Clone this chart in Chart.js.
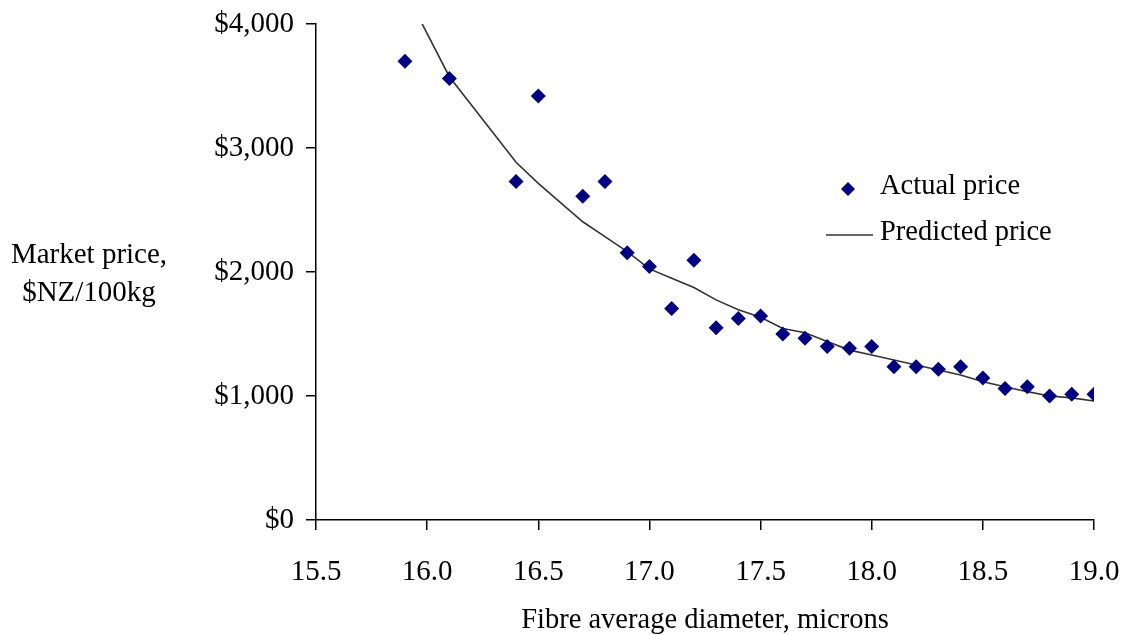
<!DOCTYPE html>
<html>
<head>
<meta charset="utf-8">
<title>Market price vs fibre diameter</title>
<script src="https://cdn.jsdelivr.net/npm/chart.js@4.4.1/dist/chart.umd.min.js"></script>
<style>
  body { margin: 0; background: #fff; }
  #wrap { width: 1128px; height: 635px; position: relative; }
</style>
</head>
<body>
<div id="wrap"><canvas id="mycanvas"></canvas></div>
<script>
// fibre diameter (microns)
var diameter = [15.9, 16.1, 16.4, 16.5, 16.7, 16.8, 16.9, 17.0, 17.1, 17.2, 17.3, 17.4, 17.5, 17.6,
                17.7, 17.8, 17.9, 18.0, 18.1, 18.2, 18.3, 18.4, 18.5, 18.6, 18.7, 18.8, 18.9, 19.0];
// $NZ/100kg
var actualPrice = [3700, 3560, 2730, 3420, 2610, 2730, 2155, 2045, 1705, 2095, 1550, 1625, 1645, 1500,
                   1465, 1400, 1385, 1400, 1235, 1235, 1215, 1235, 1145, 1060, 1075, 1000, 1015, 1015];
var predictedPrice = [4270, 3575, 2885, 2715, 2405, 2285, 2165, 2025, 1950, 1875, 1775, 1695, 1635, 1545,
                      1510, 1440, 1370, 1330, 1290, 1250, 1210, 1170, 1115, 1075, 1035, 1000, 985, 960];
var seriesNames = ["Actual price", "Predicted price"];
var yTitle = ["Market price,", "$NZ/100kg"];
var xTitle = "Fibre average diameter, microns";

var FONT = "'Liberation Serif', 'Times New Roman', serif";
var NAVY = "#000080";
var LINE = "#333333";

var actualPts = [];
var predictedPts = [];
for (var i in diameter) {
  actualPts.push({x: diameter[i], y: actualPrice[i]});
  predictedPts.push({x: diameter[i], y: predictedPrice[i]});
}

// y title (horizontal, two lines) and the legend inside the plot
var extras = {
  id: "extras",
  afterDraw: function(chart) {
    var ctx = chart.ctx;
    ctx.save();
    ctx.font = "29px " + FONT;
    ctx.fillStyle = "#000";
    ctx.textBaseline = "middle";
    ctx.textAlign = "center";
    ctx.fillText(yTitle[0], 89, 255);
    ctx.fillText(yTitle[1], 89, 293);

    // legend
    ctx.font = "28.5px " + FONT;
    ctx.textAlign = "left";
    ctx.fillText(seriesNames[0], 880, 187);
    ctx.fillText(seriesNames[1], 880, 233);
    ctx.fillStyle = NAVY;
    ctx.beginPath();
    ctx.moveTo(848, 182);
    ctx.lineTo(855, 189);
    ctx.lineTo(848, 196);
    ctx.lineTo(841, 189);
    ctx.closePath();
    ctx.fill();
    ctx.strokeStyle = LINE;
    ctx.lineWidth = 1.6;
    ctx.beginPath();
    ctx.moveTo(826, 235);
    ctx.lineTo(873, 235);
    ctx.stroke();
    ctx.restore();
  }
};

var chartdata = {
  datasets: [
    {
      label: seriesNames[0],
      data: actualPts,
      showLine: false,
      pointStyle: "rectRot",
      pointRadius: 7.5,
      pointHoverRadius: 7.5,
      backgroundColor: NAVY,
      borderColor: NAVY,
      borderWidth: 0,
      order: 1
    },
    {
      label: seriesNames[1],
      data: predictedPts,
      showLine: true,
      pointRadius: 0,
      borderColor: LINE,
      borderWidth: 1.6,
      backgroundColor: LINE,
      tension: 0,
      order: 2
    }
  ]
};

var ctx = document.getElementById("mycanvas");

var Graph = new Chart(ctx, {
  type: "scatter",
  data: chartdata,
  plugins: [extras],
  options: {
    responsive: true,
    maintainAspectRatio: false,
    animation: false,
    events: [],
    layout: { padding: { top: 24, right: 34, bottom: 0, left: 0 } },
    plugins: {
      legend: { display: false },
      tooltip: { enabled: false }
    },
    scales: {
      x: {
        type: "linear",
        min: 15.5,
        max: 19.0,
        afterFit: function(scale) {
          scale.height = 115;
          scale.paddingLeft = 0;
          scale.paddingRight = 0;
        },
        border: { color: "#000", width: 1.5 },
        grid: { drawOnChartArea: false, tickLength: 10, color: "#000", lineWidth: 1.5 },
        ticks: {
          stepSize: 0.5,
          padding: 25,
          color: "#000",
          font: { family: FONT, size: 29 },
          callback: function(v) { return v.toFixed(1); }
        },
        title: {
          display: true,
          text: xTitle,
          color: "#000",
          font: { family: FONT, size: 28.5, lineHeight: 1.05 },
          padding: { top: 0, bottom: 0 }
        }
      },
      y: {
        type: "linear",
        min: 0,
        max: 4000,
        afterFit: function(scale) {
          scale.width = 316;
          scale.paddingTop = 0;
          scale.paddingBottom = 0;
        },
        border: { color: "#000", width: 1.5 },
        grid: { drawOnChartArea: false, tickLength: 10, color: "#000", lineWidth: 1.5 },
        ticks: {
          stepSize: 1000,
          padding: 12,
          color: "#000",
          font: { family: FONT, size: 29 },
          callback: function(v) { return "$" + v.toLocaleString("en-US"); }
        }
      }
    }
  }
});
</script>
</body>
</html>
